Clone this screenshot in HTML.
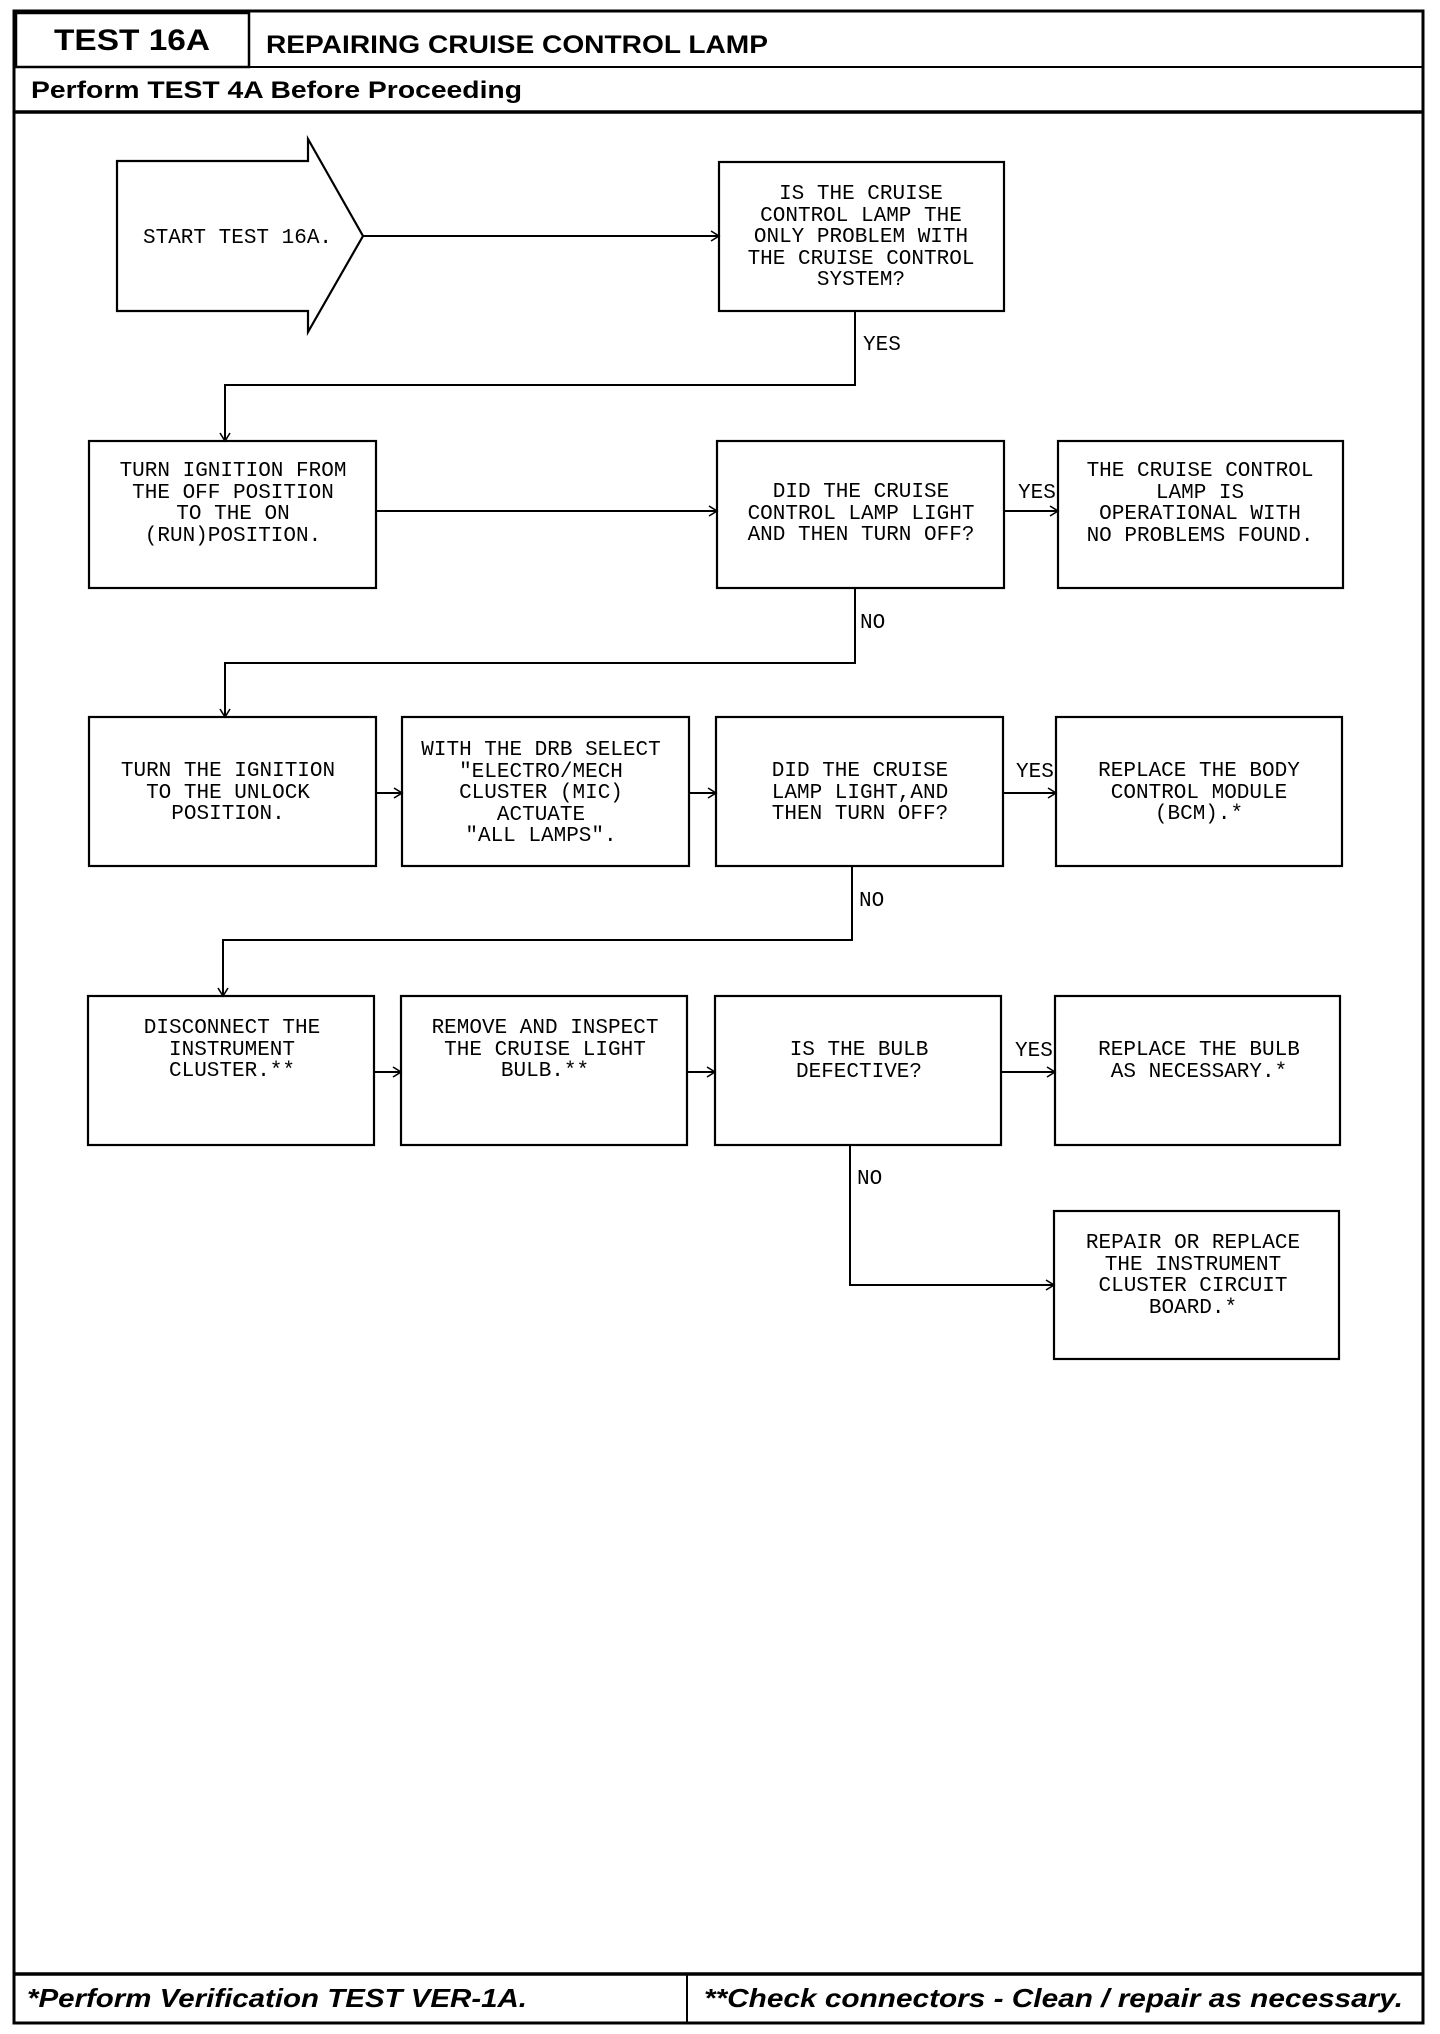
<!DOCTYPE html>
<html><head><meta charset="utf-8"><style>
html,body{margin:0;padding:0;background:#fff;}
svg{display:block;}
.m{font-family:"Liberation Mono",monospace;font-size:21px;fill:#000;text-anchor:middle;}
.l{font-family:"Liberation Mono",monospace;font-size:21px;fill:#000;}
.h{font-family:"Liberation Sans",sans-serif;font-weight:bold;fill:#000;}
</style></head><body>
<svg width="1440" height="2034" viewBox="0 0 1440 2034" xmlns="http://www.w3.org/2000/svg">
<defs>
<marker id="a" markerWidth="12" markerHeight="12" refX="10" refY="6" orient="auto" markerUnits="userSpaceOnUse">
<path d="M2,1 L10,6 L2,11" fill="none" stroke="#000" stroke-width="1.6"/>
</marker>
</defs>
<g fill="none" stroke="#000">
<rect x="14" y="11" width="1409" height="2012" stroke-width="3"/>
<rect x="16" y="13" width="233" height="54" stroke-width="2.5"/>
<line x1="14" y1="67" x2="1423" y2="67" stroke-width="2"/>
<line x1="14" y1="112" x2="1423" y2="112" stroke-width="3.5"/>
<line x1="14" y1="1974" x2="1423" y2="1974" stroke-width="3.5"/>
<line x1="687" y1="1974" x2="687" y2="2023" stroke-width="2"/>

<g stroke-width="2.2">
<polygon points="117,161 308,161 308,139 363,236 308,332 308,311 117,311"/>
<rect x="719" y="162" width="285" height="149"/>
<rect x="89" y="441" width="287" height="147"/>
<rect x="717" y="441" width="287" height="147"/>
<rect x="1058" y="441" width="285" height="147"/>
<rect x="89" y="717" width="287" height="149"/>
<rect x="402" y="717" width="287" height="149"/>
<rect x="716" y="717" width="287" height="149"/>
<rect x="1056" y="717" width="286" height="149"/>
<rect x="88" y="996" width="286" height="149"/>
<rect x="401" y="996" width="286" height="149"/>
<rect x="715" y="996" width="286" height="149"/>
<rect x="1055" y="996" width="285" height="149"/>
<rect x="1054" y="1211" width="285" height="148"/>
</g>
<g stroke-width="2">
<line x1="363" y1="236" x2="719" y2="236" marker-end="url(#a)"/>
<polyline points="855,311 855,385 225,385 225,441" marker-end="url(#a)"/>
<line x1="376" y1="511" x2="717" y2="511" marker-end="url(#a)"/>
<line x1="1004" y1="511" x2="1058" y2="511" marker-end="url(#a)"/>
<polyline points="855,588 855,663 225,663 225,717" marker-end="url(#a)"/>
<line x1="376" y1="793" x2="402" y2="793" marker-end="url(#a)"/>
<line x1="689" y1="793" x2="716" y2="793" marker-end="url(#a)"/>
<line x1="1003" y1="793" x2="1056" y2="793" marker-end="url(#a)"/>
<polyline points="852,866 852,940 223,940 223,996" marker-end="url(#a)"/>
<line x1="374" y1="1072" x2="401" y2="1072" marker-end="url(#a)"/>
<line x1="687" y1="1072" x2="715" y2="1072" marker-end="url(#a)"/>
<line x1="1001" y1="1072" x2="1055" y2="1072" marker-end="url(#a)"/>
<polyline points="850,1145 850,1285 1054,1285" marker-end="url(#a)"/>
</g>
</g>

<text class="h" x="54" y="50" font-size="30" textLength="156" lengthAdjust="spacingAndGlyphs">TEST 16A</text>
<text class="h" x="266" y="53" font-size="25" textLength="502" lengthAdjust="spacingAndGlyphs">REPAIRING CRUISE CONTROL LAMP</text>
<text class="h" x="31" y="98" font-size="24" textLength="491" lengthAdjust="spacingAndGlyphs">Perform TEST 4A Before Proceeding</text>
<text class="h" x="27" y="2007" font-size="26" font-style="italic" textLength="500" lengthAdjust="spacingAndGlyphs">*Perform Verification TEST VER-1A.</text>
<text class="h" x="704" y="2007" font-size="26" font-style="italic" textLength="699" lengthAdjust="spacingAndGlyphs">**Check connectors - Clean / repair as necessary.</text>

<text class="l" x="143" y="243">START TEST 16A.</text>

<text class="m"><tspan x="861" y="199">IS THE CRUISE</tspan><tspan x="861" y="221">CONTROL LAMP THE</tspan><tspan x="861" y="242">ONLY PROBLEM WITH</tspan><tspan x="861" y="264">THE CRUISE CONTROL</tspan><tspan x="861" y="285">SYSTEM?</tspan></text>

<text class="m"><tspan x="233" y="476">TURN IGNITION FROM</tspan><tspan x="233" y="498">THE OFF POSITION</tspan><tspan x="233" y="519">TO THE ON</tspan><tspan x="233" y="541">(RUN)POSITION.</tspan></text>
<text class="m"><tspan x="861" y="497">DID THE CRUISE</tspan><tspan x="861" y="519">CONTROL LAMP LIGHT</tspan><tspan x="861" y="540">AND THEN TURN OFF?</tspan></text>
<text class="m"><tspan x="1200" y="476">THE CRUISE CONTROL</tspan><tspan x="1200" y="498">LAMP IS</tspan><tspan x="1200" y="519">OPERATIONAL WITH</tspan><tspan x="1200" y="541">NO PROBLEMS FOUND.</tspan></text>

<text class="m"><tspan x="228" y="776">TURN THE IGNITION</tspan><tspan x="228" y="798">TO THE UNLOCK</tspan><tspan x="228" y="819">POSITION.</tspan></text>
<text class="m"><tspan x="541" y="755">WITH THE DRB SELECT</tspan><tspan x="541" y="777">"ELECTRO/MECH</tspan><tspan x="541" y="798">CLUSTER (MIC)</tspan><tspan x="541" y="820">ACTUATE</tspan><tspan x="541" y="841">"ALL LAMPS".</tspan></text>
<text class="m"><tspan x="860" y="776">DID THE CRUISE</tspan><tspan x="860" y="798">LAMP LIGHT,AND</tspan><tspan x="860" y="819">THEN TURN OFF?</tspan></text>
<text class="m"><tspan x="1199" y="776">REPLACE THE BODY</tspan><tspan x="1199" y="798">CONTROL MODULE</tspan><tspan x="1199" y="819">(BCM).*</tspan></text>

<text class="m"><tspan x="232" y="1033">DISCONNECT THE</tspan><tspan x="232" y="1055">INSTRUMENT</tspan><tspan x="232" y="1076">CLUSTER.**</tspan></text>
<text class="m"><tspan x="545" y="1033">REMOVE AND INSPECT</tspan><tspan x="545" y="1055">THE CRUISE LIGHT</tspan><tspan x="545" y="1076">BULB.**</tspan></text>
<text class="m"><tspan x="859" y="1055">IS THE BULB</tspan><tspan x="859" y="1077">DEFECTIVE?</tspan></text>
<text class="m"><tspan x="1199" y="1055">REPLACE THE BULB</tspan><tspan x="1199" y="1077">AS NECESSARY.*</tspan></text>
<text class="m"><tspan x="1193" y="1248">REPAIR OR REPLACE</tspan><tspan x="1193" y="1270">THE INSTRUMENT</tspan><tspan x="1193" y="1291">CLUSTER CIRCUIT</tspan><tspan x="1193" y="1313">BOARD.*</tspan></text>

<text class="l" x="863" y="350">YES</text>
<text class="l" x="860" y="628">NO</text>
<text class="l" x="1018" y="498">YES</text>
<text class="l" x="1016" y="777">YES</text>
<text class="l" x="859" y="906">NO</text>
<text class="l" x="1015" y="1056">YES</text>
<text class="l" x="857" y="1184">NO</text>
</svg>
</body></html>
